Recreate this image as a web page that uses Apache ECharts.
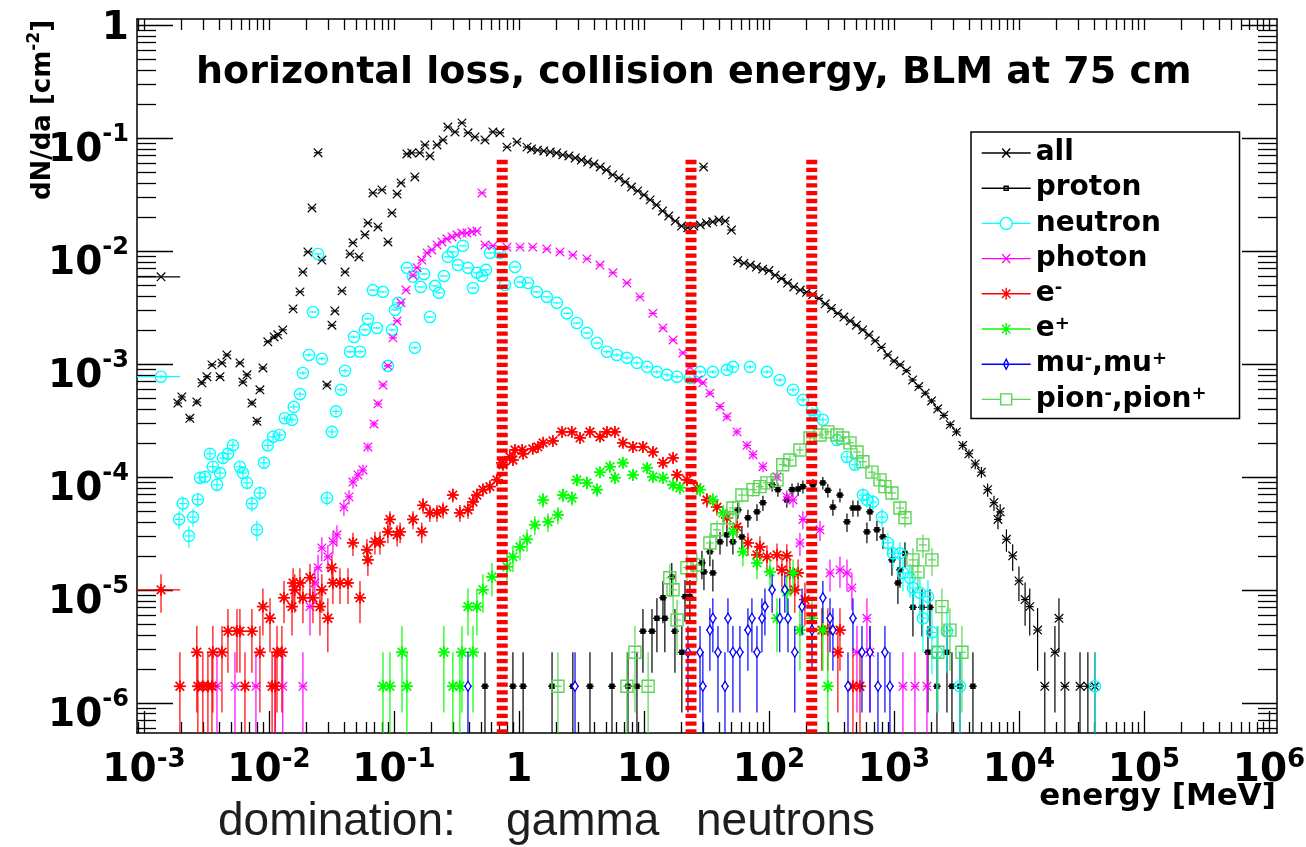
<!DOCTYPE html>
<html><head><meta charset="utf-8">
<script src="https://cdn.jsdelivr.net/npm/echarts@6/dist/echarts.min.js"></script>
<style>html,body{margin:0;padding:0;background:#fff;}#c{width:1306px;height:847px;}</style>
</head><body><div id="c"></div>
<script>
// ---------------- data ----------------
const TITLE = 'horizontal loss, collision energy, BLM at 75 cm';
const X_NAME = 'energy [MeV]';
const Y_NAME = ['dN/da [cm', '-2', ']'];
const NOTE_WORDS = ['domination:', 'gamma', 'neutrons'];

const X_TICKS = [1e-3, 1e-2, 1e-1, 1, 10, 100, 1e3, 1e4, 1e5, 1e6];
const X_TICK_LABELS = [['10','-3'],['10','-2'],['10','-1'],['1',''],['10',''],['10','2'],['10','3'],['10','4'],['10','5'],['10','6']];
const X_MINOR_TICKS = [9e-4,
  2e-3,3e-3,4e-3,5e-3,6e-3,7e-3,8e-3,9e-3,
  2e-2,3e-2,4e-2,5e-2,6e-2,7e-2,8e-2,9e-2,
  0.2,0.3,0.4,0.5,0.6,0.7,0.8,0.9,
  2,3,4,5,6,7,8,9,
  20,30,40,50,60,70,80,90,
  200,300,400,500,600,700,800,900,
  2e3,3e3,4e3,5e3,6e3,7e3,8e3,9e3,
  2e4,3e4,4e4,5e4,6e4,7e4,8e4,9e4,
  2e5,3e5,4e5,5e5,6e5,7e5,8e5,9e5];
const Y_TICKS = [1e-6, 1e-5, 1e-4, 1e-3, 1e-2, 1e-1, 1];
const Y_TICK_LABELS = [['10','-6'],['10','-5'],['10','-4'],['10','-3'],['10','-2'],['10','-1'],['1','']];
const Y_MINOR_TICKS = [6e-7,7e-7,8e-7,9e-7,
  2e-6,3e-6,4e-6,5e-6,6e-6,7e-6,8e-6,9e-6,
  2e-5,3e-5,4e-5,5e-5,6e-5,7e-5,8e-5,9e-5,
  2e-4,3e-4,4e-4,5e-4,6e-4,7e-4,8e-4,9e-4,
  2e-3,3e-3,4e-3,5e-3,6e-3,7e-3,8e-3,9e-3,
  2e-2,3e-2,4e-2,5e-2,6e-2,7e-2,8e-2,9e-2,
  0.2,0.3,0.4,0.5,0.6,0.7,0.8,0.9];

const X_RANGE = [8.8e-4, 1.16e6];
const Y_RANGE = [5.4e-7, 1.13];

const SERIES_NAMES = ['all','proton','neutron','photon','e-','e+','mu-,mu+','pion-,pion+'];

const allData = [
[1.37e-3,5.9e-3],[1.87e-3,4.5e-4],[2.01e-3,5.1e-4],[2.33e-3,3.3e-4],[2.65e-3,4.6e-4],[2.91e-3,6.8e-4],[3.19e-3,7.7e-4],[3.50e-3,9.8e-4],[4.06e-3,7.7e-4],[4.21e-3,1.02e-3],[4.61e-3,1.2e-3],[5.86e-3,1.02e-3],[6.19e-3,6.9e-4],[6.67e-3,8.0e-4],[7.31e-3,4.5e-4],[8.02e-3,3.1e-4],[8.47e-3,5.9e-4],[8.95e-3,9.2e-4],[9.8e-3,1.57e-3],[1.10e-2,1.73e-3],[1.18e-2,1.81e-3],[1.29e-2,2.0e-3],[1.56e-2,3.07e-3],[1.77e-2,4.34e-3],[1.87e-2,6.5e-3],[2.05e-2,9.8e-3],[2.21e-2,2.4e-2],[2.47e-2,7.4e-2],[2.65e-2,8.3e-3],[2.91e-2,6.5e-4],[3.19e-2,2.2e-3],[3.37e-2,2.94e-3],[3.84e-2,4.43e-3],[4.06e-2,6.5e-3],[4.45e-2,9.4e-3],[4.70e-2,1.18e-2],[5.25e-2,8.85e-3],[5.86e-2,1.39e-2],[6.19e-2,1.77e-2],[6.79e-2,3.26e-2],[7.45e-2,1.63e-2],[8.02e-2,3.47e-2],[8.95e-2,1.2e-2],[9.64e-2,2.17e-2],[0.106,3.19e-2],[0.114,4.0e-2],[0.127,7.22e-2],[0.139,7.37e-2],[0.147,4.52e-2],[0.161,7.37e-2],[0.177,8.67e-2],[0.194,6.93e-2],[0.221,8.67e-2],[0.247,9.6e-2],[0.270,0.125],[0.308,0.113],[0.350,0.136],[0.391,0.111],[0.445,0.102],[0.535,0.096],[0.619,0.113],[0.705,0.111],[0.802,0.083],[0.964,0.092],[1.16,0.083],
[1.26,0.080],[1.41,0.078],[1.58,0.0767],[1.78,0.0752],[2.0,0.0737],[2.24,0.0708],[2.51,0.0693],[2.82,0.0665],[3.16,0.0638],[3.55,0.0613],[3.98,0.0589],[4.47,0.0554],[5.01,0.0521],[5.62,0.0471],[6.31,0.0443],[7.08,0.0408],[7.94,0.0368],[8.91,0.034],[10,0.0313],[11.2,0.0283],[12.6,0.0255],[14.1,0.0226],[15.8,0.0204],[17.8,0.0184],[20,0.0166],[22.4,0.016],
[25.1,0.0166],[28.2,0.017],[30.0,0.0554],[31.6,0.0177],[35.5,0.0181],[39.8,0.0188],[44.7,0.0184],[50.1,0.0153],
[56.2,0.0082],[63.1,0.0078],[70.8,0.0075],[79.4,0.0072],[89.1,0.0069],[100,0.0067],[112,0.0061],[126,0.0057],[141,0.0052],[158,0.0048],[178,0.0045],[200,0.0043],[224,0.0041],[251,0.0038],[282,0.0034],[316,0.0031],[355,0.0028],[398,0.0026],[447,0.0024],[501,0.0022],[562,0.0020],[631,0.0018],[708,0.0016],[794,0.0014],[891,0.0012],[1000,0.00106],[1120,0.00098],[1260,0.00087],[1410,0.00072],[1580,0.00063],[1780,0.00055],[2000,0.00047],[2240,0.00040],[2510,0.00035],[2820,0.00029],[3160,0.00025],[3550,0.00019],[3980,0.00016],[4470,0.00013],[5010,0.00011],[5620,7.7e-5],[6310,5.9e-5],[6790,4.2e-5],[7080,4.9e-5],[7940,2.8e-5],[8910,2.0e-5],[10000,1.2e-5],[11200,8.2e-6],[12200,7.1e-6],[14100,4.4e-6],[16100,1.4e-6],[19400,2.8e-6],[20900,5.6e-6],[23300,1.4e-6],[30800,1.4e-6],[35600,1.4e-6],[40500,1.4e-6]
];

const protonData = [
[0.535,1.4e-6],[0.895,1.4e-6],[1.08,1.4e-6],[1.84,1.4e-6],[2.70,1.4e-6],[3.70,1.4e-6],[5.55,1.4e-6],[7.45,1.4e-6],[8.79,1.4e-6],[9.82,4.3e-6],[11.6,4.3e-6],[12.7,5.6e-6],[14.2,8.5e-6],[14.7,5.6e-6],[16.7,1.3e-5],[17.7,4.3e-6],[20.1,2.8e-6],[21.3,8.7e-6],[23.3,8.7e-6],[29.1,1.73e-5],[30.2,1.44e-5],[33.7,2.17e-5],[35.6,1.41e-5],[40.6,2.66e-5],[46.1,3.07e-5],[51.5,2.66e-5],[56.5,5.1e-5],[60.8,2.94e-5],[67.9,4.34e-5],[80.2,4.9e-5],[89.5,5.9e-5],[106,8.5e-5],[118,7.7e-5],[139,6.25e-5],[153,7.7e-5],[171,7.8e-5],[187,8.2e-5],[225,8.5e-5],[270,8.85e-5],[296,7.6e-5],[325,5.4e-5],[370,6.9e-5],[421,4.0e-5],[470,5.3e-5],[515,5.3e-5],[608,3.26e-5],[643,4.9e-5],[731,3.4e-5],[817,2.94e-5],[964,1.84e-5],[1076,1.15e-5],[1117,1.5e-5],[1225,2.1e-5],[1419,7.0e-6],[1675,7.0e-6],[1871,2.8e-6],[1941,7.0e-6],[2208,1.4e-6],[2655,2.8e-6],[2911,1.4e-6],[3373,1.4e-6],[4285,1.4e-6]
];

const neutronData = [
[1.37e-3,7.7e-4],[1.91e-3,4.2e-5],[2.05e-3,5.8e-5],[2.29e-3,3.0e-5],[2.47e-3,4.4e-5],[2.70e-3,6.3e-5],[2.81e-3,9.8e-5],[3.08e-3,1.0e-4],[3.37e-3,1.6e-4],[3.56e-3,1.23e-4],[3.84e-3,8.5e-5],[4.06e-3,1.08e-4],[4.29e-3,1.47e-4],[4.70e-3,1.6e-4],[5.15e-3,1.9e-4],[5.86e-3,1.23e-4],[6.19e-3,1.08e-4],[6.67e-3,8.85e-5],[7.31e-3,5.8e-5],[8.02e-3,3.4e-5],[8.47e-3,7.2e-5],[9.12e-3,1.33e-4],[9.8e-3,1.9e-4],[1.08e-2,2.26e-4],[1.22e-2,2.35e-4],[1.34e-2,3.3e-4],[1.53e-2,3.2e-4],[1.58e-2,4.16e-4],[1.77e-2,5.4e-4],[1.87e-2,8.3e-4],[2.09e-2,1.2e-3],[2.25e-2,2.88e-3],[2.47e-2,9.4e-3],[2.65e-2,1.11e-3],[2.91e-2,6.5e-5],[3.19e-2,2.5e-4],[3.44e-2,3.8e-4],[3.77e-2,5.9e-4],[4.06e-2,8.7e-4],[4.45e-2,1.28e-3],[4.79e-2,1.73e-3],[5.35e-2,1.28e-3],[5.86e-2,2.0e-3],[6.19e-2,2.5e-3],[6.79e-2,4.5e-3],[7.31e-2,2.08e-3],[8.17e-2,4.34e-3],[8.95e-2,9.6e-4],[9.64e-2,2.0e-3],[0.102,3.0e-3],[0.108,3.47e-3],[0.127,7.08e-3],[0.142,5.9e-3],[0.147,1.39e-3],[0.164,4.8e-3],[0.174,6.25e-3],[0.194,2.6e-3],[0.213,4.9e-3],[0.229,4.25e-3],[0.251,6.0e-3],[0.270,8.85e-3],[0.296,9.8e-3],[0.325,7.5e-3],[0.356,1.11e-2],[0.391,7.08e-3],[0.429,4.7e-3],[0.461,6.4e-3],[0.506,6.0e-3],[0.545,6.8e-3],[0.586,9.6e-3],[0.705,9.6e-3],[0.773,5.0e-3],[0.929,7.2e-3],[1.02,5.3e-3],[1.18,5.2e-3],[1.39,4.34e-3],[1.67,3.92e-3],[2.01,3.47e-3],[2.42,2.8e-3],[2.91,2.3e-3],[3.50,1.88e-3],[4.21,1.53e-3],[5.06,1.28e-3],[6.08,1.2e-3],[7.31,1.13e-3],[8.79,1.02e-3],[10.6,9.4e-4],[12.7,8.5e-4],[15.3,8.0e-4],[18.4,7.7e-4],[23.3,7.5e-4],[28.1,8.5e-4],[35.6,8.5e-4],[46.1,8.85e-4],[51.5,9.4e-4],[70.5,9.4e-4],[96.4,8.5e-4],[122,7.2e-4],[156,5.9e-4],[187,4.8e-4],[221,3.9e-4],[233,3.54e-4],[270,3.2e-4],[350,2.12e-4],[421,1.5e-4],[488,1.28e-4],[565,6.9e-5],[608,6.25e-5],[679,6.0e-5],[802,4.4e-5],[895,2.6e-5],[982,2.1e-5],[1117,2.1e-5],[1180,1.41e-5],[1343,1.28e-5],[1419,1.04e-5],[1614,9.4e-6],[1706,5.6e-6],[1871,8.7e-6],[2014,4.2e-6],[2208,2.8e-6],[2655,4.3e-6],[3373,1.4e-6],[40500,1.4e-6]
];

const photonData = [
[3.84e-3,1.4e-6],[5.35e-3,1.4e-6],[7.87e-3,1.4e-6],[1.12e-2,1.4e-6],[1.29e-2,1.4e-6],[1.87e-2,1.4e-6],[2.13e-2,7.1e-6],[2.33e-2,1.15e-5],[2.47e-2,1.57e-5],[2.65e-2,2.35e-5],[2.96e-2,1.96e-5],[3.25e-2,2.66e-5],[3.50e-2,3.07e-5],[3.98e-2,5.4e-5],[4.37e-2,6.65e-5],[4.70e-2,9.0e-5],[5.15e-2,1.04e-4],[5.65e-2,1.15e-4],[6.19e-2,1.84e-4],[6.92e-2,2.94e-4],[7.45e-2,4.43e-4],[8.17e-2,6.5e-4],[8.95e-2,9.6e-4],[9.82e-2,1.7e-3],[0.106,2.4e-3],[0.114,3.47e-3],[0.125,4.5e-3],[0.142,6.1e-3],[0.153,7.1e-3],[0.167,8.3e-3],[0.184,9.6e-3],[0.201,1.02e-2],[0.221,1.13e-2],[0.242,1.2e-2],[0.265,1.28e-2],[0.291,1.33e-2],[0.319,1.39e-2],[0.350,1.44e-2],[0.384,1.44e-2],[0.421,1.48e-2],[0.461,1.5e-2],[0.506,3.26e-2],[0.535,1.13e-2],[0.619,1.11e-2],[0.802,1.08e-2],[1.02,1.08e-2],[1.29,1.08e-2],[1.67,1.04e-2],[2.13,9.8e-3],[2.70,9.2e-3],[3.50,8.5e-3],[4.45,7.5e-3],[5.65,6.4e-3],[7.31,5.2e-3],[9.29,3.92e-3],[11.8,2.8e-3],[14.2,2.08e-3],[17.1,1.63e-3],[20.5,1.25e-3],[23.3,9.4e-4],[27.0,7.2e-4],[29.6,6.8e-4],[33.7,5.5e-4],[40.6,4.2e-4],[46.1,3.4e-4],[55.5,2.5e-4],[66.7,1.9e-4],[74.5,1.57e-4],[89.5,1.23e-4],[116,1.0e-4],[139,6.65e-5],[156,6.25e-5],[177,2.6e-5],[187,4.2e-5],[256,3.4e-5],[308,1.41e-5],[370,1.5e-5],[421,1.41e-5],[461,1.04e-5],[506,2.8e-6],[608,5.6e-6],[643,2.8e-6],[1180,1.4e-6],[1472,1.4e-6],[1837,1.4e-6]
];

const eMinusData = [
[1.37e-3,1.0e-5],[1.94e-3,1.4e-6],[2.65e-3,2.8e-6],[2.70e-3,1.4e-6],[2.96e-3,1.4e-6],[3.25e-3,1.4e-6],[3.50e-3,1.4e-6],[3.56e-3,2.8e-6],[4.21e-3,2.8e-6],[4.70e-3,4.3e-6],[5.55e-3,4.3e-6],[5.86e-3,4.3e-6],[6.43e-3,1.4e-6],[7.31e-3,4.3e-6],[8.47e-3,2.8e-6],[8.95e-3,7.1e-6],[1.02e-2,5.6e-6],[1.06e-2,1.4e-6],[1.12e-2,1.4e-6],[1.16e-2,2.8e-6],[1.27e-2,2.8e-6],[1.32e-2,8.5e-6],[1.53e-2,7.1e-6],[1.56e-2,1.15e-5],[1.61e-2,1.0e-5],[1.77e-2,1.15e-5],[1.87e-2,8.5e-6],[2.13e-2,1.28e-5],[2.25e-2,8.5e-6],[2.56e-2,7.1e-6],[2.65e-2,1.0e-5],[2.96e-2,5.6e-6],[3.19e-2,1.57e-5],[3.25e-2,1.15e-5],[3.70e-2,1.15e-5],[4.29e-2,1.15e-5],[4.70e-2,2.6e-5],[5.35e-2,8.5e-6],[6.08e-2,2.26e-5],[6.19e-2,1.84e-5],[7.05e-2,2.66e-5],[7.73e-2,2.66e-5],[8.95e-2,3.26e-5],[9.29e-2,4.2e-5],[0.106,3.07e-5],[0.112,3.26e-5],[0.142,4.2e-5],[0.167,3.26e-5],[0.171,5.6e-5],[0.194,4.8e-5],[0.221,4.8e-5],[0.247,5.1e-5],[0.296,6.9e-5],[0.337,4.8e-5],[0.391,5.1e-5],[0.429,6.0e-5],[0.461,6.9e-5],[0.515,7.7e-5],[0.586,8.2e-5],[0.667,9.4e-5],[0.731,1.33e-4],[0.745,1.28e-4],[0.847,1.5e-4],[0.895,1.41e-4],[0.929,1.73e-4],[1.06,1.73e-4],[1.08,1.6e-4],[1.29,1.77e-4],[1.42,1.84e-4],[1.56,2.0e-4],[1.87,2.08e-4],[2.21,2.5e-4],[2.65,2.5e-4],[3.08,2.21e-4],[3.70,2.5e-4],[4.45,2.26e-4],[5.06,2.5e-4],[5.86,2.5e-4],[6.79,2.0e-4],[8.17,1.84e-4],[9.82,1.84e-4],[11.8,1.66e-4],[14.2,1.33e-4],[17.1,1.47e-4],[18.4,1.04e-4],[22.1,9.4e-5],[26.5,8.0e-5],[31.9,6.25e-5],[38.4,5.4e-5],[46.1,4.34e-5],[55.5,3.6e-5],[67.9,2.6e-5],[80.2,2.04e-5],[84.7,2.4e-5],[96.4,1.96e-5],[116,2.04e-5],[127,1.5e-5],[139,2.0e-5],[147,1.41e-5],[161,1.0e-5],[171,1.41e-5],[194,8.2e-6],[265,4.4e-6],[296,4.4e-6],[356,2.8e-6],[370,4.4e-6],[470,1.4e-6],[535,1.4e-6]
];

const ePlusData = [
[8.17e-2,1.4e-6],[9.29e-2,1.4e-6],[0.116,2.8e-6],[0.127,1.4e-6],[0.251,2.8e-6],[0.296,1.4e-6],[0.337,1.4e-6],[0.350,2.8e-6],[0.391,7.1e-6],[0.429,2.8e-6],[0.461,7.1e-6],[0.515,1.0e-5],[0.608,1.3e-5],[0.802,1.6e-5],[0.895,1.96e-5],[1.02,2.4e-5],[1.16,2.8e-5],[1.34,3.76e-5],[1.56,6.25e-5],[1.71,4.0e-5],[2.05,4.6e-5],[2.25,6.9e-5],[2.65,6.5e-5],[2.91,9.4e-5],[3.50,8.85e-5],[4.21,7.7e-5],[4.45,1.1e-4],[5.35,1.23e-4],[5.86,9.8e-5],[6.79,1.33e-4],[8.17,1.04e-4],[10.6,1.2e-4],[11.8,1.0e-4],[14.2,9.8e-5],[17.1,8.5e-5],[19.4,8.0e-5],[28.1,7.7e-5],[35.6,6.25e-5],[42.9,4.8e-5],[51.5,3.26e-5],[61.9,2.17e-5],[80.2,1.73e-5],[102,1.44e-5],[116,5.6e-6],[139,9.6e-6],[156,1.41e-5],[177,4.4e-6],[221,5.6e-6],[270,4.4e-6],[296,1.4e-6]
];

const muData = [
[0.391,1.4e-6],[2.81,1.4e-6],[22.5,2.8e-6],[28.1,2.8e-6],[29.6,1.4e-6],[33.7,4.4e-6],[35.6,5.6e-6],[39.1,2.8e-6],[44.5,1.4e-6],[47.0,5.6e-6],[51.5,2.8e-6],[58.6,2.8e-6],[67.9,4.4e-6],[73.1,5.6e-6],[80.2,2.8e-6],[87.9,5.6e-6],[92.9,7.1e-6],[106,1.0e-5],[122,5.6e-6],[134,1.0e-5],[142,5.6e-6],[161,2.8e-6],[184,7.1e-6],[221,4.4e-6],[270,8.5e-6],[308,5.6e-6],[325,4.4e-6],[429,1.4e-6],[470,5.6e-6],[555,2.8e-6],[643,2.8e-6],[745,1.4e-6],[847,2.8e-6],[929,1.4e-6]
];

const pionData = [
[2.05,1.4e-6],[7.31,1.4e-6],[8.47,2.8e-6],[10.8,1.4e-6],[16.1,1.28e-5],[17.1,1.0e-5],[18.4,5.4e-6],[22.1,1.57e-5],[26.5,1.66e-5],[33.7,2.6e-5],[38.4,3.4e-5],[48.8,4.34e-5],[51.5,5.3e-5],[60.8,6.9e-5],[74.5,7.7e-5],[84.7,8.2e-5],[96.4,8.85e-5],[116,9.4e-5],[129,1.28e-4],[147,1.41e-4],[177,1.73e-4],[213,2.21e-4],[256,2.35e-4],[296,2.5e-4],[350,2.35e-4],[391,2.21e-4],[445,2.0e-4],[506,1.66e-4],[565,1.36e-4],[667,1.1e-4],[773,9.4e-5],[847,8.2e-5],[964,7.2e-5],[1117,5.3e-5],[1225,4.34e-5],[1419,1.84e-5],[1556,1.44e-5],[1706,2.5e-5],[2014,1.84e-5],[2249,2.8e-6],[2421,7.1e-6],[2805,4.4e-6],[3499,2.8e-6]
];

// dominance boundaries (vertical dashed red lines)
const DOM_LINES_X = [0.735, 23.8, 220];
const DOM_LINES_TOP = 0.064;

// ---------------- styling ----------------
const COLORS = ['#000000','#000000','#00ffff','#ff00ff','#ff0000','#00ff00','#0000ff','#59d454'];
const MARKERS = ['x','fsq','circle','x','star','star','diamond','osq'];
const ICONS = {
  x: 'path://M0 7H49M20.5 2.5L28.5 11.5M28.5 2.5L20.5 11.5',
  fsq: 'path://M0 7H49M22.5 5H26.5V9H22.5Z',
  circle: 'path://M0 7H18.5M30.5 7H49M30.5 7A6 6 0 1 1 18.5 7A6 6 0 1 1 30.5 7',
  star: 'path://M0 7H49M24.5 1V13M20.3 2.8L28.7 11.2M28.7 2.8L20.3 11.2',
  diamond: 'path://M0 7H49M24.5 2L27 7L24.5 12L22 7Z',
  osq: 'path://M0 7H19M30 7H49M19 1.5H30V12.5H19Z'
};
const LEGEND_LABELS = {
  'all':'{t|all}', 'proton':'{t|proton}', 'neutron':'{t|neutron}', 'photon':'{t|photon}',
  'e-':'{t|e}{s|-}', 'e+':'{t|e}{s|+}', 'mu-,mu+':'{t|mu}{s|-}{t|,mu}{s|+}', 'pion-,pion+':'{t|pion}{s|-}{t|,pion}{s|+}'
};
const COUNT_UNIT = 1.4e-6;     // one entry -> error bar size (Poisson)
const BIN_HALF = 1.075;        // half bin width factor for horizontal bars
const FIRST_BIN_EDGE = 1.95e-3;
const FONT = 'DejaVu Sans';

function idxOf(ticks, v) {
  const lv = Math.log10(v);
  for (let i = 0; i < ticks.length; i++) if (Math.abs(Math.log10(ticks[i]) - lv) < 1e-6) return i;
  return -1;
}
function fmtX(v) {
  const i = idxOf(X_TICKS, v); if (i < 0) return '';
  const [b, s] = X_TICK_LABELS[i];
  return '{b|' + b + '}' + (s ? '{s|' + s + '}' : '');
}
function fmtY(v) {
  const i = idxOf(Y_TICKS, v); if (i < 0) return '';
  const [b, s] = Y_TICK_LABELS[i];
  return s ? '{b|' + b + '}{s|' + s + '}' : '{one|' + b + '}';
}

const tickLine = {color:'#000', width:1.3};
function xAx(pos, ticks, len, label, line) {
  return {
    type:'log', logBase:10, min:X_RANGE[0], max:X_RANGE[1], position:pos, gridIndex:0,
    axisLine:{show:line, onZero:false, lineStyle:{color:'#000', width:1.5}},
    axisTick:{show:true, inside:true, length:len, customValues:ticks, lineStyle:tickLine},
    axisLabel: label ? {
      show:true, customValues:X_TICKS, margin:14, formatter:fmtX, hideOverlap:false,
      rich:{
        b:{fontFamily:FONT, fontWeight:'bold', fontSize:39, lineHeight:43, verticalAlign:'bottom', color:'#000'},
        s:{fontFamily:FONT, fontWeight:'bold', fontSize:26, lineHeight:43, verticalAlign:'top', color:'#000'}
      }
    } : {show:false},
    splitLine:{show:false}, minorTick:{show:false}, minorSplitLine:{show:false}
  };
}
function yAx(pos, ticks, len, label, line) {
  return {
    type:'log', logBase:10, min:Y_RANGE[0], max:Y_RANGE[1], position:pos, gridIndex:0,
    axisLine:{show:line, onZero:false, lineStyle:{color:'#000', width:1.5}},
    axisTick:{show:true, inside:true, length:len, customValues:ticks, lineStyle:tickLine},
    axisLabel: label ? {
      show:true, customValues:Y_TICKS, margin:8, padding:[17,0,0,0], formatter:fmtY, hideOverlap:false,
      rich:{
        b:{fontFamily:FONT, fontWeight:'bold', fontSize:39, lineHeight:48, verticalAlign:'bottom', color:'#000'},
        s:{fontFamily:FONT, fontWeight:'bold', fontSize:24, lineHeight:48, verticalAlign:'top', color:'#000'},
        one:{fontFamily:FONT, fontWeight:'bold', fontSize:39, lineHeight:48, verticalAlign:'top', color:'#000'}
      }
    } : {show:false},
    splitLine:{show:false}, minorTick:{show:false}, minorSplitLine:{show:false}
  };
}

function makeRender(kind, color) {
  return function (params, api) {
    const x = api.value(0), y = api.value(1);
    const p = api.coord([x, y]);
    const err = Math.sqrt(y * COUNT_UNIT);
    const yt = api.coord([x, y + err])[1];
    const yb = api.coord([x, Math.max(y - err, Y_RANGE[0])])[1];
    let xl, xr;
    if (x < 1.6e-3) { xl = api.coord([X_RANGE[0], y])[0]; xr = api.coord([FIRST_BIN_EDGE, y])[0]; }
    else { xl = api.coord([x / BIN_HALF, y])[0]; xr = api.coord([x * BIN_HALF, y])[0]; }
    const ls = {stroke:color, lineWidth:1.2};
    const ch = [
      {type:'line', shape:{x1:p[0], y1:yt, x2:p[0], y2:yb}, style:ls},
      {type:'line', shape:{x1:xl, y1:p[1], x2:xr, y2:p[1]}, style:ls}
    ];
    const cx = p[0], cy = p[1];
    if (kind === 'x') {
      const s = 4.3;
      ch.push({type:'line', shape:{x1:cx-s, y1:cy-s, x2:cx+s, y2:cy+s}, style:{stroke:color, lineWidth:1.2}});
      ch.push({type:'line', shape:{x1:cx+s, y1:cy-s, x2:cx-s, y2:cy+s}, style:{stroke:color, lineWidth:1.2}});
    } else if (kind === 'fsq') {
      ch.push({type:'rect', shape:{x:cx-2.7, y:cy-2.7, width:5.4, height:5.4}, style:{fill:color}});
    } else if (kind === 'circle') {
      ch.push({type:'circle', shape:{cx:cx, cy:cy, r:5.6}, style:{fill:'none', stroke:color, lineWidth:1.4}});
    } else if (kind === 'star') {
      const r = 6, d = 4.3;
      const st = {stroke:color, lineWidth:1.7};
      ch.push({type:'line', shape:{x1:cx, y1:cy-r, x2:cx, y2:cy+r}, style:st});
      ch.push({type:'line', shape:{x1:cx-r, y1:cy, x2:cx+r, y2:cy}, style:st});
      ch.push({type:'line', shape:{x1:cx-d, y1:cy-d, x2:cx+d, y2:cy+d}, style:st});
      ch.push({type:'line', shape:{x1:cx+d, y1:cy-d, x2:cx-d, y2:cy+d}, style:st});
      ch.push({type:'circle', shape:{cx:cx, cy:cy, r:2}, style:{fill:color}});
    } else if (kind === 'diamond') {
      ch.push({type:'polygon', shape:{points:[[cx,cy-5],[cx+3,cy],[cx,cy+5],[cx-3,cy]]}, style:{fill:'#fff', stroke:color, lineWidth:1.3}});
    } else if (kind === 'osq') {
      ch.push({type:'rect', shape:{x:cx-6, y:cy-6, width:12, height:12}, style:{fill:'none', stroke:color, lineWidth:1.4}});
    }
    return {type:'group', children:ch};
  };
}

const SERIES_DATA = [allData, protonData, neutronData, photonData, eMinusData, ePlusData, muData, pionData];

const series = SERIES_NAMES.map((name, i) => ({
  name: name, type:'custom', xAxisIndex:0, yAxisIndex:0, clip:true, silent:true,
  itemStyle:{color:COLORS[i]},
  renderItem: makeRender(MARKERS[i], COLORS[i]),
  data: SERIES_DATA[i], z: 2 + i * 0.01
}));
DOM_LINES_X.forEach((x, k) => {
  series.push({
    name:'dom' + k, type:'line', xAxisIndex:0, yAxisIndex:0, symbol:'none', silent:true, z:5,
    data:[[x, DOM_LINES_TOP], [x, Y_RANGE[0]]],
    lineStyle:{color:'#ff0000', width:11, type:[4.3, 3.5], cap:'butt'}
  });
});

const option = {
  animation:false,
  backgroundColor:'#ffffff',
  grid:{left:137, right:29, top:19, bottom:114, containLabel:false, outerBoundsMode:'none'},
  title:{text:TITLE, left:196, top:54, padding:0,
    textStyle:{fontFamily:FONT, fontWeight:'bold', fontSize:38, lineHeight:38, color:'#000'}},
  xAxis:[
    xAx('bottom', X_TICKS, 22, true, true),
    xAx('bottom', X_MINOR_TICKS, 11, false, false),
    xAx('top', X_TICKS, 11, false, true),
    xAx('top', X_MINOR_TICKS, 11, false, false)
  ],
  yAxis:[
    yAx('left', Y_TICKS, 36, true, true),
    yAx('left', Y_MINOR_TICKS, 19, false, false),
    yAx('right', Y_TICKS, 35, false, true),
    yAx('right', Y_MINOR_TICKS, 19, false, false)
  ],
  legend:{
    data: SERIES_NAMES.map((n, i) => ({name:n, icon:ICONS[MARKERS[i]],
      itemStyle:{color:'rgba(0,0,0,0)', borderColor:COLORS[i], borderWidth:1.4}})),
    orient:'vertical', left:971, top:132, padding:[7, 33, 5, 10], itemGap:7.2,
    itemWidth:49, itemHeight:14, selectedMode:false,
    backgroundColor:'#ffffff', borderColor:'#000', borderWidth:1.5, borderRadius:0,
    formatter: n => LEGEND_LABELS[n],
    textStyle:{fontFamily:FONT, fontWeight:'bold', fontSize:28, color:'#000',
      rich:{
        t:{fontFamily:FONT, fontWeight:'bold', fontSize:28, lineHeight:28, verticalAlign:'bottom', color:'#000'},
        s:{fontFamily:FONT, fontWeight:'bold', fontSize:18, lineHeight:28, verticalAlign:'top', color:'#000'}
      }}
  },
  graphic:[
    {type:'text', x:41, y:110, rotation:Math.PI/2, silent:true,
      style:{text:'{t|' + Y_NAME[0] + '}{s|' + Y_NAME[1] + '}{t|' + Y_NAME[2] + '}', textAlign:'center', textVerticalAlign:'middle', fill:'#000',
        rich:{
          t:{fontFamily:FONT, fontWeight:'bold', fontSize:26, lineHeight:30, verticalAlign:'bottom', fill:'#000'},
          s:{fontFamily:FONT, fontWeight:'bold', fontSize:17, lineHeight:30, verticalAlign:'top', fill:'#000'}
        }}},
    {type:'text', x:1276, y:797, silent:true,
      style:{text:X_NAME, font:'bold 31px "DejaVu Sans"', textAlign:'right', textVerticalAlign:'middle', fill:'#000'}},
    {type:'text', x:218, y:822, silent:true,
      style:{text:NOTE_WORDS[0], font:'46px "Liberation Sans"', textAlign:'left', textVerticalAlign:'middle', fill:'#1e1e1e'}},
    {type:'text', x:506, y:822, silent:true,
      style:{text:NOTE_WORDS[1], font:'46px "Liberation Sans"', textAlign:'left', textVerticalAlign:'middle', fill:'#1e1e1e'}},
    {type:'text', x:696, y:822, silent:true,
      style:{text:NOTE_WORDS[2], font:'46px "Liberation Sans"', textAlign:'left', textVerticalAlign:'middle', fill:'#1e1e1e'}}
  ],
  series: series
};
const chart = echarts.init(document.getElementById('c'), null, {renderer:'canvas'});
chart.setOption(option);
</script></body></html>
